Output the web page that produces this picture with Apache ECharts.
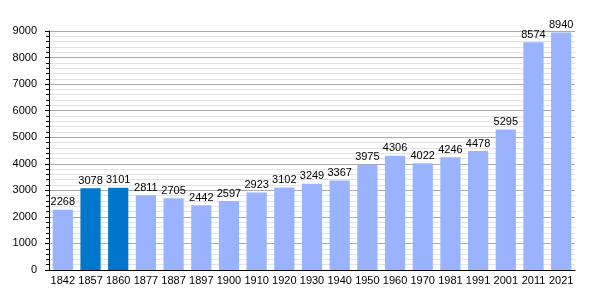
<!DOCTYPE html>
<html><head><meta charset="utf-8">
<script src="https://cdn.jsdelivr.net/npm/echarts@6/dist/echarts.min.js"></script>
<style>html,body{margin:0;padding:0;background:#fff}#c{width:600px;height:300px}</style>
</head><body><div id="c"></div>
<script>
const years = ['1842','1857','1860','1877','1887','1897','1900','1910','1920','1930','1940','1950','1960','1970','1981','1991','2001','2011','2021'];
const population = [2268,3078,3101,2811,2705,2442,2597,2923,3102,3249,3367,3975,4306,4022,4246,4478,5295,8574,8940];
const highlighted = ['1857','1860'];
const yTicks = [0,1000,2000,3000,4000,5000,6000,7000,8000,9000];

const chart = echarts.init(document.getElementById('c'), null, {renderer:'canvas'});
chart.setOption({
  animation:false,
  grid:{left:49,right:25,top:31,bottom:30},
  xAxis:{type:'category',data:years,
    axisLine:{lineStyle:{color:'#000'}},axisTick:{show:false},
    axisLabel:{color:'#000',fontFamily:'Liberation Sans, Arial',fontSize:11,margin:5,interval:0}},
  yAxis:{type:'value',min:yTicks[0],max:yTicks[yTicks.length-1],interval:1000,
    axisLine:{show:true,lineStyle:{color:'#000'}},
    axisTick:{show:true,length:4,lineStyle:{color:'#000'}},
    minorTick:{show:true,splitNumber:5,length:3,lineStyle:{color:'#000'}},
    minorSplitLine:{show:true,lineStyle:{color:'#e2e2e2'}},
    splitLine:{show:true,lineStyle:{color:'#aaaaaa'}},
    axisLabel:{color:'#000',fontFamily:'Liberation Sans, Arial',fontSize:11,margin:12,formatter:v=>String(v)}},
  series:[{type:'bar',barCategoryGap:'27%',
    data:population.map((v,i)=>({value:v,itemStyle:{color:highlighted.includes(years[i])?'#0077cc':'#99b3ff'}})),
    label:{show:true,position:'top',distance:2,color:'#000',fontFamily:'Liberation Sans, Arial',fontSize:11}
  }]
});
</script></body></html>
